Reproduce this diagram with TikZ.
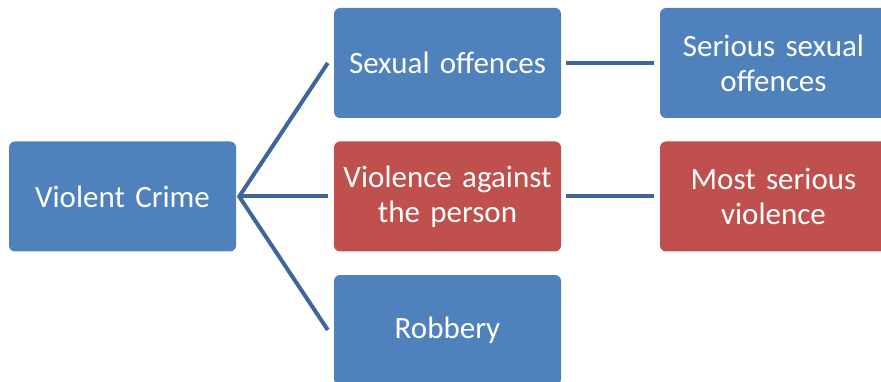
\documentclass[tikz,border=0pt]{standalone}
\usepackage{fontspec}
\setmainfont{Carlito}
\definecolor{boxblue}{HTML}{4F81BD}
\definecolor{boxred}{HTML}{C0504D}
\definecolor{linkblue}{HTML}{3E6699}
\begin{document}
\begin{tikzpicture}[x=1pt,y=-1pt,
  box/.style={rounded corners=6pt, inner sep=0pt, minimum width=227pt, minimum height=110pt,
    text width=220pt, align=center, text=white, font=\fontsize{31}{35}\selectfont},
  bluebox/.style={box, fill=boxblue},
  redbox/.style={box, fill=boxred},
  link/.style={draw=linkblue, line width=4pt}]
\useasboundingbox (0,0) rectangle (881,382);
\node[bluebox] (vc) at (122.5,196.5) {Violent Crime};
\node[bluebox] (so) at (447.5,63) {Sexual offences};
\node[redbox] (vp) at (447.5,196.5) {Violence against\\the person};
\node[bluebox] (rb) at (447.5,330) {Robbery};
\node[bluebox, text width=215pt] (ss) at (773.5,63) {Serious sexual\\offences};
\node[redbox, text width=215pt] (ms) at (773.5,196.5) {Most serious\\violence};
\coordinate (j) at ([xshift=3pt]vc.east);
\draw[link, line join=miter] ([xshift=-6pt]so.west) -- (j) -- ([xshift=-6pt]rb.west);
\draw[link] (j) -- ([xshift=-6pt]vp.west);
\draw[link] ([xshift=5pt]so.east) -- ([xshift=-6pt]ss.west);
\draw[link] ([xshift=5pt]vp.east) -- ([xshift=-6pt]ms.west);
\end{tikzpicture}
\end{document}
